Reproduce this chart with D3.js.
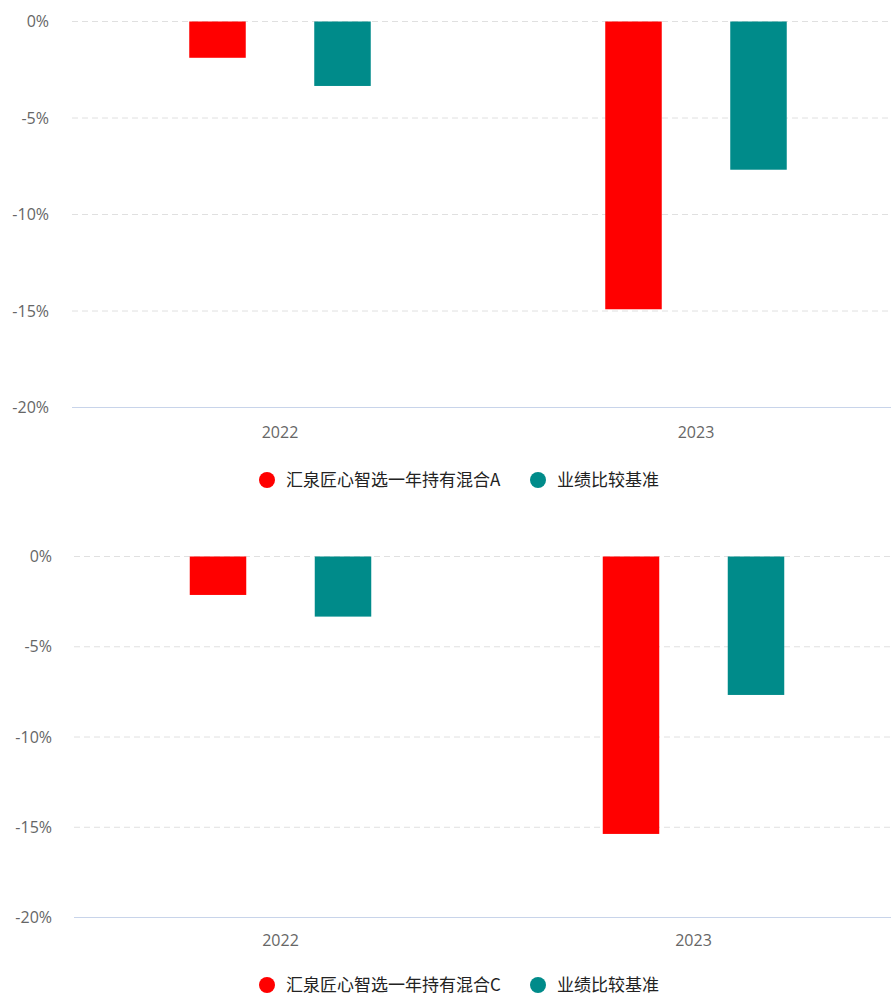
<!DOCTYPE html>
<html>
<head>
<meta charset="utf-8">
<script src="https://cdn.jsdelivr.net/npm/d3@7"></script>
<style>
  body { margin: 0; background: #fff; }
  svg { display: block; }
  .tick-label { font-family: "Open Sans", sans-serif; font-size: 16px; fill: #666; }
  .legend-label { font-family: "Noto Sans CJK SC", sans-serif; font-size: 17px; font-weight: normal; fill: #222; }
</style>
</head>
<body>
<div id="chart"></div>
<script>
// data
const years = ["2022", "2023"];
const yTicks = [0, -5, -10, -15, -20];
const seriesNamesA = ["汇泉匠心智选一年持有混合A", "业绩比较基准"];
const seriesNamesC = ["汇泉匠心智选一年持有混合C", "业绩比较基准"];
const fundA = [-1.88, -14.91];
const benchA = [-3.34, -7.68];
const fundC = [-2.13, -15.37];
const benchC = [-3.33, -7.67];
const colors = ["#ff0000", "#008b8a"];

const width = 891, height = 997;

const svg = d3.select("#chart")
  .append("svg")
  .attr("width", width)
  .attr("height", height);

function drawChart(opts) {
  const { names, values, xRange, yRange, labelX, xLabelY, legendY } = opts;
  const g = svg.append("g");

  const x = d3.scaleBand().domain(years).range(xRange).padding(0);
  const bw = x.bandwidth();
  const x1 = d3.scaleBand().domain([0, 1]).range([bw / 2 - 125, bw / 2 + 125]).padding(0);
  const barW = x1.bandwidth() * 0.452;
  const y = d3.scaleLinear().domain([-20, 0]).range(yRange);

  // gridlines
  g.selectAll(".grid")
    .data(yTicks.filter(d => d !== -20))
    .enter().append("line")
      .attr("x1", xRange[0]).attr("x2", width)
      .attr("y1", d => y(d)).attr("y2", d => y(d))
      .attr("stroke", "#e0e0e0")
      .attr("stroke-dasharray", "6,4");

  // axis line at bottom
  g.append("line")
    .attr("x1", xRange[0]).attr("x2", width)
    .attr("y1", y(-20)).attr("y2", y(-20))
    .attr("stroke", "#c8d4ea");

  // y labels
  g.selectAll(".ylab")
    .data(yTicks)
    .enter().append("text")
      .attr("class", "tick-label")
      .attr("x", labelX)
      .attr("y", d => y(d))
      .attr("dy", "0.35em")
      .attr("text-anchor", "end")
      .text(d => d + "%");

  // x labels
  g.selectAll(".xlab")
    .data(years)
    .enter().append("text")
      .attr("class", "tick-label")
      .attr("x", d => x(d) + bw / 2)
      .attr("y", xLabelY)
      .attr("dy", "0.35em")
      .attr("text-anchor", "middle")
      .text(d => d);

  // bars
  values.forEach((vals, si) => {
    g.selectAll(".bar" + si)
      .data(vals)
      .enter().append("rect")
        .attr("x", (d, i) => x(years[i]) + x1(si) + (x1.bandwidth() - barW) / 2)
        .attr("y", y(0))
        .attr("width", barW)
        .attr("height", d => y(d) - y(0))
        .attr("fill", colors[si]);
  });

  // legend
  const legendX = [267, 538];
  names.forEach((name, i) => {
    g.append("circle")
      .attr("cx", legendX[i]).attr("cy", legendY)
      .attr("r", 8)
      .attr("fill", colors[i]);
    g.append("text")
      .attr("class", "legend-label")
      .attr("x", legendX[i] + 19)
      .attr("y", legendY)
      .attr("dy", "0.35em")
      .text(name);
  });
}

drawChart({
  names: seriesNamesA,
  values: [fundA, benchA],
  xRange: [72, 904],
  yRange: [407.5, 21.5],
  labelX: 49,
  xLabelY: 432,
  legendY: 480
});

drawChart({
  names: seriesNamesC,
  values: [fundC, benchC],
  xRange: [74, 900],
  yRange: [917.5, 556.5],
  labelX: 52,
  xLabelY: 940,
  legendY: 985
});
</script>
</body>
</html>
